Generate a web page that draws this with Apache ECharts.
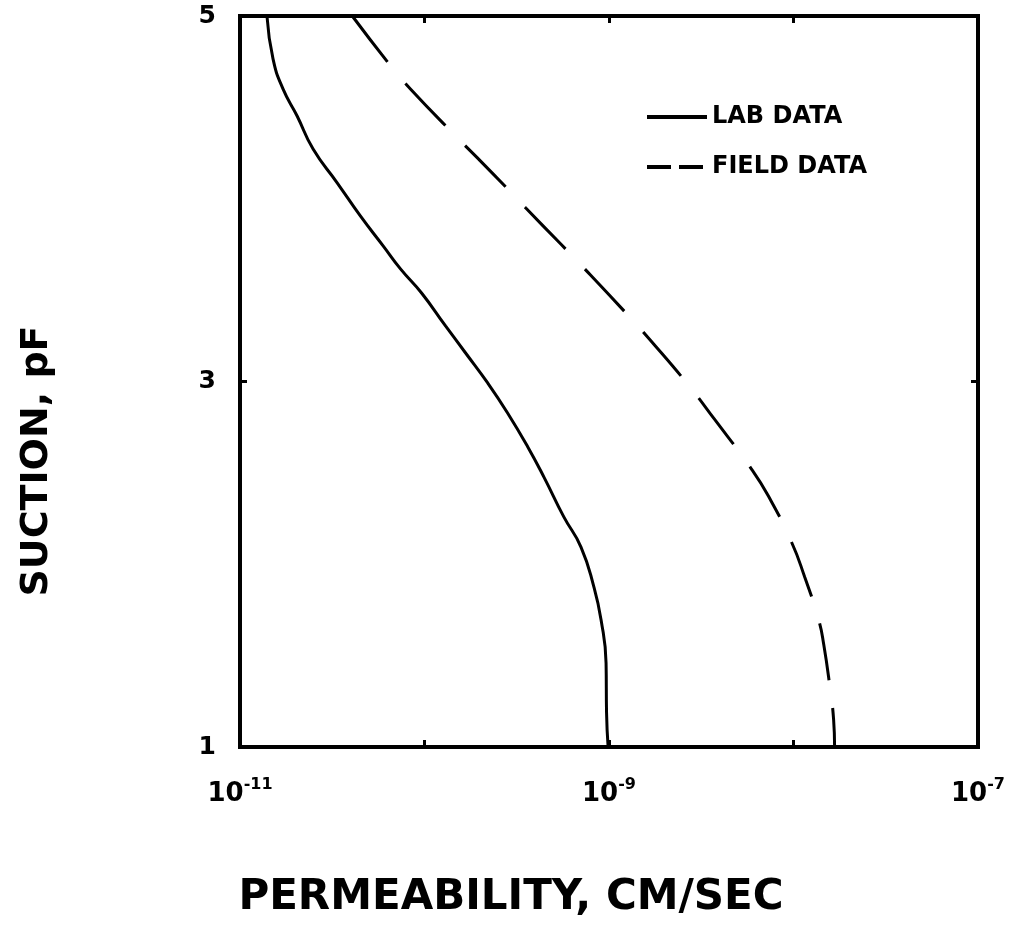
<!DOCTYPE html>
<html>
<head>
<meta charset="utf-8">
<script src="https://cdn.jsdelivr.net/npm/echarts@6/dist/echarts.min.js"></script>
<style>
  html, body { margin: 0; padding: 0; background: #fff; }
  #chart { width: 1021px; height: 943px; }
</style>
</head>
<body>
<div id="chart"></div>
<script>
// 实验室数据 (solid)
var permLab = [1.40e-11, 1.51e-11, 1.71e-11, 2.04e-11, 2.49e-11, 3.37e-11, 4.49e-11, 5.98e-11,
               7.41e-11, 9.64e-11, 1.30e-10, 1.67e-10, 2.20e-10, 2.82e-10, 3.63e-10, 4.44e-10,
               5.69e-10, 7.05e-10, 8.28e-10, 9.06e-10, 9.64e-10, 9.70e-10, 9.89e-10];
var suctionLab = [5.0, 4.765, 4.601, 4.453, 4.272, 4.086, 3.906, 3.741,
                  3.616, 3.484, 3.304, 3.156, 2.992, 2.828, 2.642, 2.477,
                  2.259, 2.094, 1.876, 1.695, 1.460, 1.186, 1.0];

// 现场数据 (dashed)
var permField = [4.06e-11, 6.70e-11, 8.39e-11, 1.42e-10, 1.96e-10, 2.79e-10, 3.54e-10, 5.48e-10,
                 7.31e-10, 1.28e-9, 1.69e-9, 2.72e-9, 3.72e-9, 5.92e-9, 7.31e-9, 9.75e-9,
                 1.15e-8, 1.37e-8, 1.46e-8, 1.57e-8, 1.65e-8, 1.67e-8];
var suctionField = [5.0, 4.715, 4.601, 4.360, 4.218, 4.059, 3.949, 3.752,
                    3.621, 3.358, 3.222, 2.975, 2.795, 2.521, 2.373, 2.122,
                    1.930, 1.695, 1.558, 1.339, 1.148, 1.0];

var seriesNames = ['LAB DATA', 'FIELD DATA'];
var xName = 'PERMEABILITY, CM/SEC';
var yName = 'SUCTION, pF';

function pairs(xs, ys){
    var out = [];
    for(var i=0; i<xs.length; i++){
        out.push([xs[i], ys[i]]);
    }
    return out;
}

var FONT = '"DejaVu Sans", "Liberation Sans", sans-serif';

var dom = document.getElementById('chart');
var myChart = echarts.init(dom, null, {renderer: 'canvas'});

var tickStyle = {show: true, inside: true, length: 7, lineStyle: {color: '#000', width: 3}};

var option = {
    backgroundColor: '#fff',
    animation: false,
    grid: {
        left: 240, right: 43, top: 16, bottom: 196,
        show: true, borderColor: '#000', borderWidth: 4, backgroundColor: 'transparent'
    },
    legend: {
        orient: 'vertical',
        left: 640,
        top: 100,
        itemWidth: 60,
        itemHeight: 20,
        itemGap: 26,
        itemStyle: {opacity: 0},
        lineStyle: {width: 4},
        textStyle: {fontFamily: FONT, fontWeight: 'bold', fontSize: 24, color: '#000'},
        data: [
            {name: seriesNames[0]},
            {name: seriesNames[1], lineStyle: {type: [24, 8], width: 4}}
        ]
    },
    xAxis: [
        {
            type: 'log',
            logBase: 10,
            min: 1e-11,
            max: 1e-7,
            position: 'bottom',
            axisLine: {show: false},
            axisTick: tickStyle,
            splitLine: {show: false},
            axisLabel: {
                showMinLabel: true,
                showMaxLabel: true,
                margin: 30,
                formatter: function(v){
                    var e = Math.round(Math.log10(v));
                    if(e % 2 === 0) return '';
                    return '{b|10}{s|' + e + '}';
                },
                rich: {
                    b: {fontFamily: FONT, fontWeight: 'bold', fontSize: 26, color: '#000', lineHeight: 34},
                    s: {fontFamily: FONT, fontWeight: 'bold', fontSize: 16, color: '#000', verticalAlign: 'top', lineHeight: 16}
                }
            }
        },
        {
            type: 'log',
            logBase: 10,
            min: 1e-11,
            max: 1e-7,
            position: 'top',
            axisLine: {show: false},
            axisTick: tickStyle,
            splitLine: {show: false},
            axisLabel: {show: false}
        }
    ],
    yAxis: [
        {
            type: 'value',
            min: 1,
            max: 5,
            interval: 2,
            position: 'left',
            axisLine: {show: false},
            axisTick: tickStyle,
            splitLine: {show: false},
            axisLabel: {
                margin: 24,
                fontFamily: FONT, fontWeight: 'bold', fontSize: 25, color: '#000'
            }
        },
        {
            type: 'value',
            min: 1,
            max: 5,
            interval: 2,
            position: 'right',
            axisLine: {show: false},
            axisTick: tickStyle,
            splitLine: {show: false},
            axisLabel: {show: false}
        }
    ],
    graphic: [
        {
            type: 'text',
            x: 511, y: 898,
            style: {
                text: xName,
                fontFamily: FONT, fontWeight: 'bold', fontSize: 42,
                fill: '#000', textAlign: 'center', textVerticalAlign: 'middle'
            }
        },
        {
            type: 'text',
            x: 37, y: 461,
            rotation: Math.PI / 2,
            style: {
                text: yName,
                fontFamily: FONT, fontWeight: 'bold', fontSize: 38,
                fill: '#000', textAlign: 'center', textVerticalAlign: 'middle'
            }
        }
    ],
    series: [
        {
            name: seriesNames[0],
            type: 'line',
            smooth: 0.5,
            symbol: 'none',
            lineStyle: {color: '#000', width: 3},
            itemStyle: {color: '#000'},
            data: pairs(permLab, suctionLab)
        },
        {
            name: seriesNames[1],
            type: 'line',
            smooth: 0.5,
            symbol: 'none',
            lineStyle: {color: '#000', width: 3, type: [58, 28]},
            itemStyle: {color: '#000'},
            data: pairs(permField, suctionField)
        }
    ]
};

myChart.setOption(option, true);
</script>
</body>
</html>
